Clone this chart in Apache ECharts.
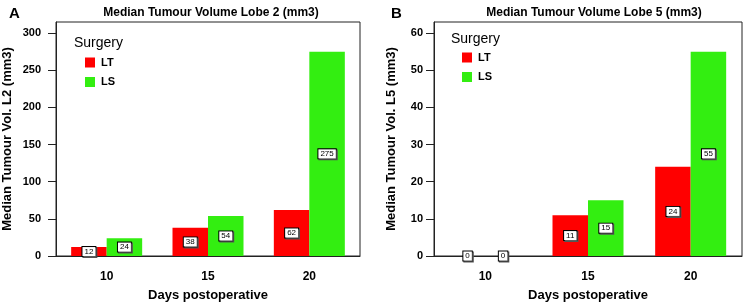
<!DOCTYPE html>
<html><head><meta charset="utf-8">
<script src="https://cdn.jsdelivr.net/npm/echarts@6/dist/echarts.min.js"></script>
<style>html,body{margin:0;padding:0;background:#fff}#c{width:745px;height:308px}</style>
</head><body><div id="c"></div>
<script>
const categories = ['10', '15', '20'];
const lobe2LT = [12, 38, 62];
const lobe2LS = [24, 54, 275];
const lobe5LT = [0, 11, 24];
const lobe5LS = [0, 15, 55];
const lobe2Ticks = [0, 50, 100, 150, 200, 250, 300];
const lobe5Ticks = [0, 10, 20, 30, 40, 50, 60];

const RED = '#ff0000', GREEN = '#33ee11';
const NARROW = '"Liberation Sans Narrow", "Arial Narrow", "Liberation Sans", sans-serif';
const ARIAL = '"Liberation Sans", Arial, sans-serif';

function xAxis(gi) {
  return {
    type: 'category', gridIndex: gi, data: categories,
    name: 'Days postoperative', nameLocation: 'middle', nameGap: 33,
    nameTextStyle: { fontFamily: ARIAL, fontWeight: 'bold', fontSize: 13, color: '#000' },
    axisLine: { lineStyle: { color: '#222' } },
    axisTick: { alignWithLabel: true, length: 7, lineStyle: { color: '#222' } },
    axisLabel: { fontFamily: NARROW, fontWeight: 'bold', fontSize: 12, color: '#000', margin: 15 }
  };
}
function yAxis(gi, max, interval, ticks, name, nameGap, margin) {
  return {
    type: 'value', gridIndex: gi, min: 0, max: max, interval: interval,
    name: name, nameLocation: 'middle', nameGap: nameGap,
    nameTextStyle: { fontFamily: ARIAL, fontWeight: 'bold', fontSize: 13, color: '#000' },
    splitLine: { show: false },
    axisLine: { show: true, lineStyle: { color: '#222' } },
    axisTick: { show: true, length: 8, customValues: ticks, lineStyle: { color: '#222' } },
    axisLabel: { fontFamily: NARROW, fontWeight: 'bold', fontSize: 11, color: '#000', margin: margin, customValues: ticks }
  };
}
const labelStyle = {
  show: true, position: 'inside', color: '#000', fontSize: 8, fontFamily: ARIAL,
  backgroundColor: '#fff', borderColor: '#000', borderWidth: 1, padding: [1, 2, 0, 2],
  shadowColor: '#555', shadowOffsetX: 1, shadowOffsetY: 1, shadowBlur: 0
};
function bar(name, data, gi, color) {
  return {
    type: 'bar', name: name, data: data, xAxisIndex: gi, yAxisIndex: gi,
    barWidth: 35.5, barGap: '0%', itemStyle: { color: color },
    label: labelStyle
  };
}
function legend(left, top) {
  return {
    data: ['LT', 'LS'], orient: 'vertical', left: left, top: top,
    itemWidth: 10, itemHeight: 10, itemGap: 8.5, icon: 'rect', selectedMode: false,
    textStyle: { fontFamily: ARIAL, fontWeight: 'bold', fontSize: 11, color: '#000', padding: [0, 0, 0, 1] }
  };
}
const chart = echarts.init(document.getElementById('c'), null, { renderer: 'canvas' });
chart.setOption({
  animation: false,
  backgroundColor: '#fff',
  title: [
    { text: 'Median Tumour Volume Lobe 2 (mm3)', left: 206, top: 2, textAlign: 'center',
      textStyle: { fontFamily: ARIAL, fontWeight: 'bold', fontSize: 12, color: '#000' } },
    { text: 'Median Tumour Volume Lobe 5 (mm3)', left: 589, top: 2, textAlign: 'center',
      textStyle: { fontFamily: ARIAL, fontWeight: 'bold', fontSize: 12, color: '#000' } },
    { text: 'A', left: 4, top: 1, textStyle: { fontFamily: ARIAL, fontWeight: 'bold', fontSize: 15, color: '#000' } },
    { text: 'B', left: 386, top: 1, textStyle: { fontFamily: ARIAL, fontWeight: 'bold', fontSize: 15, color: '#000' } },
    { text: 'Surgery', left: 69, top: 31, textStyle: { fontFamily: ARIAL, fontWeight: 'normal', fontSize: 14, color: '#000' } },
    { text: 'Surgery', left: 446, top: 27, textStyle: { fontFamily: ARIAL, fontWeight: 'normal', fontSize: 14, color: '#000' } }
  ],
  legend: [legend(80, 52), legend(457, 47)],
  grid: [
    { left: 56, top: 22, width: 304, height: 234, show: true, borderColor: '#222', borderWidth: 1 },
    { left: 434, top: 22, width: 308, height: 234, show: true, borderColor: '#222', borderWidth: 1 }
  ],
  xAxis: [xAxis(0), xAxis(1)],
  yAxis: [
    yAxis(0, 315, 50, lobe2Ticks, 'Median Tumour Vol. L2 (mm3)', 42, 15),
    yAxis(1, 63, 10, lobe5Ticks, 'Median Tumour Vol. L5 (mm3)', 36, 11)
  ],
  series: [
    bar('LT', lobe2LT, 0, RED), bar('LS', lobe2LS, 0, GREEN),
    bar('LT', lobe5LT, 1, RED), bar('LS', lobe5LS, 1, GREEN)
  ]
});
</script></body></html>
